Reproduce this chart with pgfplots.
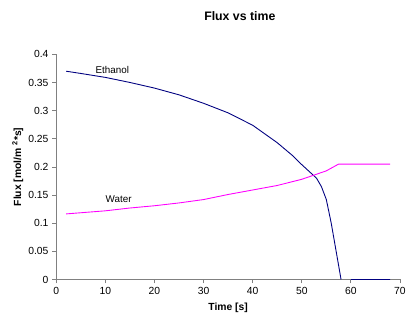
\documentclass[border=0pt]{standalone}
\usepackage{pgfplots}
\pgfplotsset{compat=1.18}
\usepackage{fontspec}
\setmainfont{Liberation Sans}
\definecolor{navy}{HTML}{000080}
\definecolor{mag}{HTML}{FF00FF}
\definecolor{axgray}{HTML}{808080}
\begin{document}
\begin{tikzpicture}
\begin{axis}[
  at={(0,0)}, anchor=south west,
  scale only axis, width=348bp, height=228bp,
  xmin=0, xmax=70, ymin=0, ymax=0.4,
  xtick={0,10,...,70},
  ytick={0,0.05,...,0.4},
  yticklabels={0,0.05,0.1,0.15,0.2,0.25,0.3,0.35,0.4},
  axis x line=bottom, axis y line=left,
  axis line style={-, draw=axgray, line width=0.8pt},
  tick style={draw=axgray, line width=0.8pt},
  tick align=outside, major tick length=4bp,
  ticklabel style={font=\fontsize{10.5}{12}\selectfont},
  /pgf/number format/assume math mode=true,
  xticklabel style={yshift=-0.5bp},
  yticklabel style={xshift=-0.5bp},
  xlabel={\textbf{Time [s]}},
  ylabel={\textbf{Flux [mol/m \textsuperscript{2}*s]}},
  label style={font=\fontsize{10.5}{12}\selectfont},
  xlabel style={at={(0.5,0)}, anchor=center, yshift=-29bp},
  ylabel style={at={(0,0.5)}, anchor=center, xshift=0bp, yshift=39bp},
  title={\textbf{Flux vs time}},
  title style={at={(0.534,1)}, anchor=center, yshift=33bp, font=\fontsize{12.5}{14}\selectfont},
  unbounded coords=jump,
  clip=false,
]
\addplot[navy, line width=0.9pt] coordinates {
(2,0.370) (5,0.366) (10,0.359) (15,0.350) (20,0.340) (25,0.328) (30,0.313)
(35,0.296) (40,0.274) (45,0.243) (48,0.221) (50,0.204) (52,0.188) (53,0.180)
(54,0.165) (55,0.142) (56,0.100) (57,0.050) (58,0)
(59,nan) (60,0) (68,0)
};
\addplot[mag, line width=0.9pt] coordinates {
(2,0.1165) (10,0.122) (15,0.127) (20,0.131) (25,0.136) (30,0.142) (35,0.151)
(40,0.159) (45,0.167) (50,0.178) (53,0.187) (55,0.193) (57.5,0.205) (68,0.205)
};
\node[font=\fontsize{10}{12}\selectfont] at (axis cs:11.4,0.3726) {Ethanol};
\node[font=\fontsize{10}{12}\selectfont] at (axis cs:12.7,0.142) {Water};
\end{axis}
\useasboundingbox (-57bp,-40bp) rectangle (352bp,283bp);
\end{tikzpicture}
\end{document}
